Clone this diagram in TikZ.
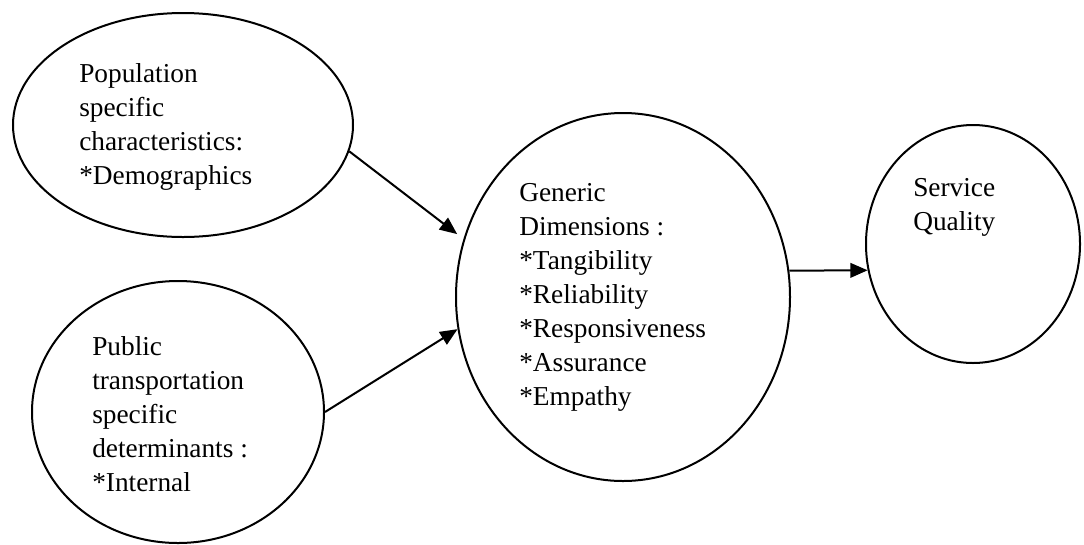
\documentclass[tikz,border=0pt]{standalone}
\usepackage{fontspec}
\setmainfont{Liberation Serif}
\usetikzlibrary{shapes.geometric,arrows.meta}

\begin{document}
\begin{tikzpicture}[x=0.75pt,y=0.75pt,yscale=-1,xscale=1,
  bubble/.style={draw, ellipse, line width=1.5pt, inner sep=0pt},
  bubtext/.style={anchor=north west, inner sep=0pt, align=left, font=\fontsize{20.5}{25.5}\selectfont},
  link/.style={line width=1.5pt, -{Triangle[length=13pt,width=11pt]}}]
\useasboundingbox (0,0) rectangle (1084,544);

%Shape: Ellipse [population]
\node [bubble, minimum width=255pt, minimum height=168pt] (pop) at (183,125) {};
%Shape: Ellipse [public transport]
\node [bubble, minimum width=219pt, minimum height=196.5pt] (pub) at (178,412) {};
%Shape: Ellipse [generic dimensions]
\node [bubble, minimum width=250.5pt, minimum height=276pt] (gen) at (623,297) {};
%Shape: Ellipse [service quality]
\node [bubble, minimum width=160.5pt, minimum height=178.5pt] (sq) at (973,244) {};

% Text Node
\node [bubtext] (popText) at (79,63) {Population\\specific\\characteristics:\\*Demographics};
% Text Node
\node [bubtext] (pubText) at (92,336) {Public\\transportation\\specific\\determinants :\\*Internal};
% Text Node
\node [bubtext] (genText) at (519,183) {Generic\\Dimensions :\\*Tangibility\\*Reliability\\*Responsiveness\\*Assurance\\*Empathy};
% Text Node
\node [bubtext] (sqText) at (913,178) {Service\\Quality};

%Straight Lines
\draw [link, shorten >=6pt] (pop.-9) -- (gen.160);
\draw [link] (pub.east) -- (gen.191);
\draw [link] (gen.9) -- (sq.194);

\end{tikzpicture}
\end{document}
